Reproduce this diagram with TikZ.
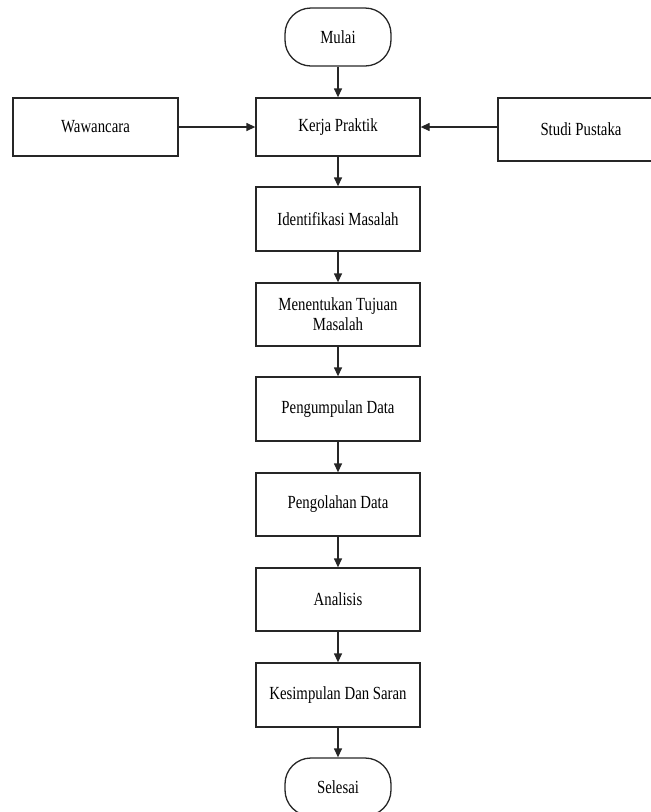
\documentclass[tikz,border=0pt]{standalone}
\usepackage{fontspec}
\setmainfont[FakeStretch=0.8]{Liberation Serif}
\usetikzlibrary{arrows.meta}
\begin{document}
\begin{tikzpicture}[x=1pt,y=-1pt,
  box/.style={draw=black!85,line width=1.3pt,inner sep=0pt,align=center,font=\fontsize{18.5}{20}\selectfont},
  proc/.style={box,minimum width=164pt,minimum height=63pt},
  term/.style={box,minimum width=106pt,minimum height=58pt,rounded corners=26pt},
  arr/.style={draw=black!85,line width=1.3pt,-{Triangle[length=9pt,width=8pt]}}]
\useasboundingbox (0,0) rectangle (651,812);
\clip (0,0) rectangle (651,812);
\node[term] (mulai) at (338,37) {Mulai};
\node[proc,minimum height=58pt] (kerja) at (338,127) {Kerja Praktik};
\node[box,minimum width=165pt,minimum height=58pt] (waw) at (95.5,127) {Wawancara};
\node[box,minimum width=166pt,minimum height=63pt] (studi) at (581,129.5) {Studi Pustaka};
\node[proc,minimum height=64pt] (ident) at (338,219) {Identifikasi Masalah};
\node[proc] (tujuan) at (338,314.5) {Menentukan Tujuan\\Masalah};
\node[proc,minimum height=64pt] (kumpul) at (338,409) {Pengumpulan Data};
\node[proc] (olah) at (338,504.5) {Pengolahan Data};
\node[proc] (anal) at (338,599.5) {Analisis};
\node[proc,minimum height=64pt] (simpul) at (338,695) {Kesimpulan Dan Saran};
\node[term] (selesai) at (338,787) {Selesai};
\draw[arr] (mulai) -- (kerja);
\draw[arr] (waw) -- (kerja);
\draw[arr] (kerja.east -| studi.west) -- (kerja.east);
\draw[arr] (kerja) -- (ident);
\draw[arr] (ident) -- (tujuan);
\draw[arr] (tujuan) -- (kumpul);
\draw[arr] (kumpul) -- (olah);
\draw[arr] (olah) -- (anal);
\draw[arr] (anal) -- (simpul);
\draw[arr] (simpul) -- (selesai);
\end{tikzpicture}
\end{document}
